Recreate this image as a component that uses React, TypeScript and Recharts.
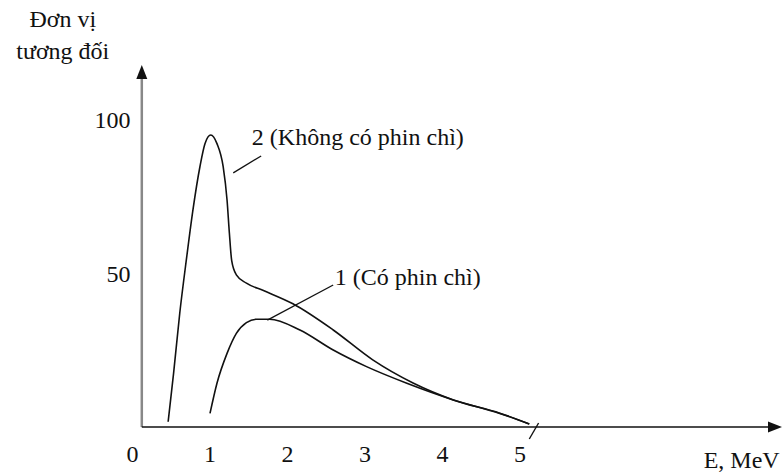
import { LineChart, Line, XAxis, YAxis, ReferenceLine, ReferenceDot } from "recharts";

const energyTicks = [0, 1, 2, 3, 4, 5];
const levelTicks = [50, 100];

// curve 2: spectrum without the lead filter
const noFilterEnergy = [0.46, 0.53, 0.61, 0.7, 0.78, 0.87, 0.935, 1.01, 1.09, 1.17, 1.22, 1.25, 1.28, 1.34, 1.47, 1.69, 2.07, 2.59, 3.1, 3.62, 4.14, 4.74, 5.12];
const noFilterLevel = [1.7, 17.4, 37, 55.3, 70.5, 84.5, 92, 94.8, 92, 84.5, 73.7, 63, 54, 49.4, 46.7, 44.3, 40, 31.5, 21.8, 14.3, 8.8, 4.5, 1];

// curve 1: spectrum behind the lead filter
const leadEnergy = [1.0, 1.09, 1.22, 1.34, 1.47, 1.6, 1.77, 2.16, 2.59, 3.02, 3.54, 4.14, 4.74, 5.12];
const leadLevel = [4.4, 14.2, 23.9, 30.4, 33.9, 35, 35, 31.5, 25, 19.6, 14.2, 8.8, 4.4, 1];

const noFilterData = noFilterEnergy.map((e, i) => ({ e, v: noFilterLevel[i] }));
const leadData = leadEnergy.map((e, i) => ({ e, v: leadLevel[i] }));

const X_MAX = 8.381;
const Y_MAX = 117.53;
const AXIS_X = 0.12;

const FONT = "'Liberation Serif', 'Times New Roman', serif";
const FONT_SIZE = 24;
const INK = "#111";

function ArrowLine(props: any) {
  const { x1, y1, x2, y2, stroke, strokeWidth } = props;
  const dx = x2 - x1;
  const dy = y2 - y1;
  const len = Math.hypot(dx, dy) || 1;
  const ux = dx / len;
  const uy = dy / len;
  const head = 14;
  const half = 5.5;
  const bx = x2 - ux * head;
  const by = y2 - uy * head;
  const pts = `${x2},${y2} ${bx - uy * half},${by + ux * half} ${bx + uy * half},${by - ux * half}`;
  return (
    <g>
      <line x1={x1} y1={y1} x2={bx} y2={by} stroke={stroke} strokeWidth={strokeWidth} />
      <polygon points={pts} fill={INK} />
    </g>
  );
}

function textLabel(value: string, position: any) {
  return { value, position, offset: 0, fill: INK, fontSize: FONT_SIZE, fontFamily: FONT };
}

export default function App() {
  return (
    <div style={{ width: 784, height: 472, background: "#fff" }}>
      <style>{"body{margin:0}"}</style>
      <LineChart
        width={784}
        height={472}
        margin={{ top: 65, right: 2, bottom: 0, left: 72.5 }}
      >
        <XAxis
          type="number"
          dataKey="e"
          domain={[0, X_MAX]}
          allowDataOverflow
          ticks={energyTicks}
          axisLine={false}
          tickLine={false}
          height={45}
          tickMargin={12}
          tick={{ fill: INK, fontSize: FONT_SIZE, fontFamily: FONT }}
        />
        <YAxis
          type="number"
          domain={[0, Y_MAX]}
          allowDataOverflow
          ticks={levelTicks}
          axisLine={false}
          tickLine={false}
          width={60}
          tickMargin={-4}
          tick={{ fill: INK, fontSize: FONT_SIZE, fontFamily: FONT }}
        />

        {/* axes with arrow heads */}
        <ReferenceLine
          segment={[{ x: AXIS_X, y: 0 }, { x: AXIS_X, y: Y_MAX }]}
          ifOverflow="visible"
          stroke="#888"
          strokeWidth={2.5}
          shape={ArrowLine}
        />
        <ReferenceLine
          segment={[{ x: AXIS_X, y: 0 }, { x: X_MAX, y: 0 }]}
          ifOverflow="visible"
          stroke={INK}
          strokeWidth={1.6}
          shape={ArrowLine}
        />

        <Line
          data={noFilterData}
          dataKey="v"
          type="monotone"
          stroke={INK}
          strokeWidth={1.6}
          dot={false}
          isAnimationActive={false}
        />
        <Line
          data={leadData}
          dataKey="v"
          type="monotone"
          stroke={INK}
          strokeWidth={1.6}
          dot={false}
          isAnimationActive={false}
        />

        {/* end mark at the spectrum limit */}
        <ReferenceLine
          segment={[{ x: 5.24, y: 1.3 }, { x: 5.12, y: -3.9 }]}
          ifOverflow="visible"
          stroke={INK}
          strokeWidth={1.4}
        />

        {/* leader lines to the curve labels */}
        <ReferenceLine
          segment={[{ x: 1.3, y: 82.5 }, { x: 1.66, y: 88 }]}
          ifOverflow="visible"
          stroke={INK}
          strokeWidth={1.3}
        />
        <ReferenceLine
          segment={[{ x: 1.74, y: 34.7 }, { x: 2.59, y: 46.1 }]}
          ifOverflow="visible"
          stroke={INK}
          strokeWidth={1.3}
        />

        <ReferenceDot
          x={1.54}
          y={94.2}
          r={0}
          fill="none"
          stroke="none"
          ifOverflow="visible"
          label={textLabel("2 (Không có phin chì)", "right")}
        />
        <ReferenceDot
          x={2.61}
          y={49}
          r={0}
          fill="none"
          stroke="none"
          ifOverflow="visible"
          label={textLabel("1 (Có phin chì)", "right")}
        />

        {/* axis titles */}
        <ReferenceDot
          x={-0.9}
          y={132.5}
          r={0}
          fill="none"
          stroke="none"
          ifOverflow="visible"
          label={textLabel("Đơn vị", "center")}
        />
        <ReferenceDot
          x={-0.9}
          y={122.2}
          r={0}
          fill="none"
          stroke="none"
          ifOverflow="visible"
          label={textLabel("tương đối", "center")}
        />
        <ReferenceDot
          x={7.86}
          y={-10.6}
          r={0}
          fill="none"
          stroke="none"
          ifOverflow="visible"
          label={textLabel("E, MeV", "center")}
        />
      </LineChart>
    </div>
  );
}
